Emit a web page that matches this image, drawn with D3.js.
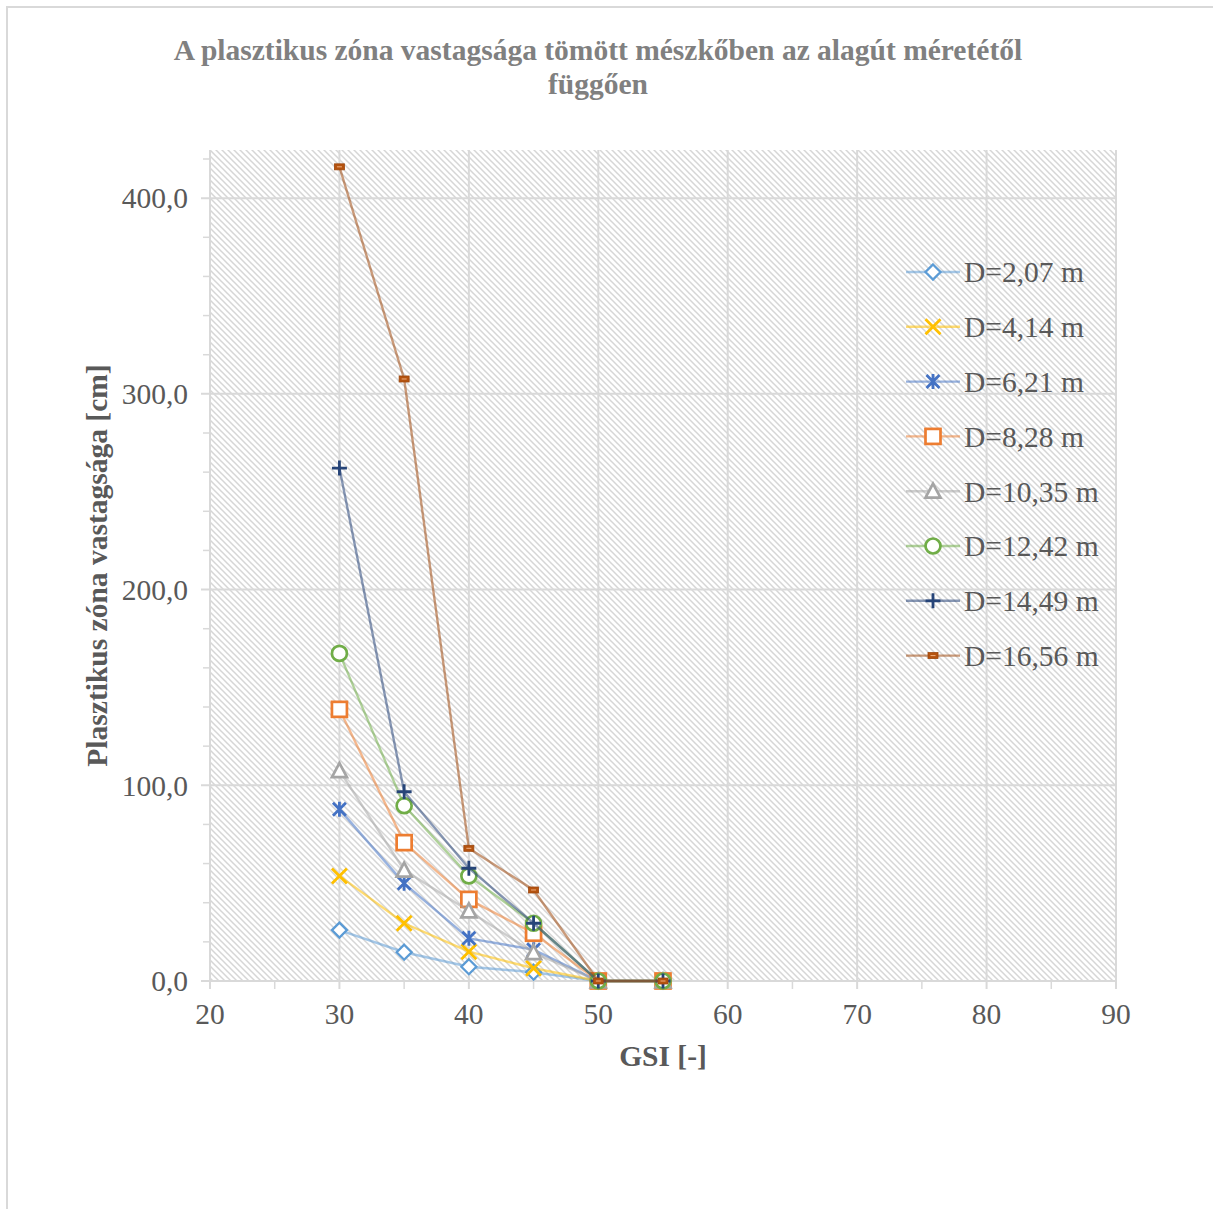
<!DOCTYPE html>
<html>
<head>
<meta charset="utf-8">
<script src="https://cdn.jsdelivr.net/npm/d3@7"></script>
<style>
  body { margin: 0; background: #fff; }
  text { font-family: "Liberation Serif", "Times New Roman", serif; }
</style>
</head>
<body>
<svg id="chart" width="1213" height="1209"></svg>
<script>
// GSI values on the x axis
const gsi = [30, 35, 40, 45, 50, 55];

// Plastic zone thickness [cm] for each tunnel diameter
const seriesNames = ["D=2,07 m", "D=4,14 m", "D=6,21 m", "D=8,28 m",
                     "D=10,35 m", "D=12,42 m", "D=14,49 m", "D=16,56 m"];
const d207  = [26.0, 14.7, 7.3, 4.5, 0, 0];
const d414  = [53.7, 29.5, 15.0, 6.5, 0, 0];
const d621  = [87.7, 49.9, 21.8, 16.0, 0, 0];
const d828  = [138.8, 70.7, 41.7, 24.4, 0, 0];
const d1035 = [107.5, 56.7, 35.8, 14.5, 0, 0];
const d1242 = [167.4, 89.6, 53.7, 29.5, 0, 0];
const d1449 = [262.1, 96.7, 57.6, 29.5, 0, 0];
const d1656 = [416.0, 307.6, 67.8, 46.5, 0, 0];
const seriesValues = [d207, d414, d621, d828, d1035, d1242, d1449, d1656];

const xTicks = [20, 30, 40, 50, 60, 70, 80, 90];
const yTicks = [0, 100, 200, 300, 400];

const colors  = ["#5b9bd5", "#ffc000", "#4472c4", "#ed7d31", "#a5a5a5", "#70ad47", "#264478", "#9e480e"];
const markers = ["diamond", "x", "star", "square", "triangle", "circle", "plus", "dash"];

const svg = d3.select("#chart");
const W = 1213, H = 1209;
const FS = 29.5;

// outer chart frame
svg.append("rect").attr("x", 7).attr("y", 7).attr("width", W + 20).attr("height", H + 20)
  .attr("fill", "#fff").attr("stroke", "#d9d9d9").attr("stroke-width", 2);

const plot = { left: 210, right: 1116, top: 150, bottom: 981 };

const x = d3.scaleLinear().domain([20, 90]).range([plot.left, plot.right]);
const y = d3.scaleLinear().domain([0, 424.6]).range([plot.bottom, plot.top]);

// diagonal hatch fill for the plot area
const defs = svg.append("defs");
const pat = defs.append("pattern").attr("id", "hatch")
  .attr("patternUnits", "userSpaceOnUse").attr("width", 6).attr("height", 6);
pat.append("rect").attr("width", 6).attr("height", 6).attr("fill", "#fff");
pat.append("path").attr("d", "M-1,-1 L7,7 M-4,2 L2,8 M2,-4 L8,2")
  .attr("stroke", "#d6d6d6").attr("stroke-width", 1.5);

svg.append("rect")
  .attr("x", plot.left).attr("y", plot.top)
  .attr("width", plot.right - plot.left).attr("height", plot.bottom - plot.top)
  .attr("fill", "url(#hatch)");

// gridlines
const grid = svg.append("g").attr("stroke", "#d9d9d9").attr("stroke-width", 2);
yTicks.forEach(v => grid.append("line")
  .attr("x1", plot.left - 9).attr("x2", plot.right).attr("y1", y(v)).attr("y2", y(v)));
xTicks.forEach(v => grid.append("line")
  .attr("x1", x(v)).attr("x2", x(v)).attr("y1", plot.top).attr("y2", plot.bottom + 8));

// minor tick marks
const minor = svg.append("g").attr("stroke", "#d9d9d9").attr("stroke-width", 1.5);
d3.range(20, 421, 20).filter(v => v % 100 !== 0).forEach(v => minor.append("line")
  .attr("x1", plot.left - 7).attr("x2", plot.left).attr("y1", y(v)).attr("y2", y(v)));
d3.range(25, 90, 10).forEach(v => minor.append("line")
  .attr("x1", x(v)).attr("x2", x(v)).attr("y1", plot.bottom).attr("y2", plot.bottom + 8));

// tick labels
const tickColor = "#595959";
svg.append("g").selectAll("text").data(yTicks).join("text")
  .attr("x", 188).attr("y", d => y(d)).attr("dy", "0.35em")
  .attr("text-anchor", "end").attr("font-size", FS).attr("fill", tickColor)
  .text(d => d3.format(".1f")(d).replace(".", ","));
svg.append("g").selectAll("text").data(xTicks).join("text")
  .attr("x", d => x(d)).attr("y", 1014).attr("dy", "0.35em")
  .attr("text-anchor", "middle").attr("font-size", FS).attr("fill", tickColor)
  .text(d => d);

// titles
svg.append("text").attr("x", 598).attr("y", 50).attr("dy", "0.35em")
  .attr("text-anchor", "middle").attr("font-size", FS).attr("font-weight", "bold")
  .attr("fill", "#808080")
  .text("A plasztikus zóna vastagsága tömött mészkőben az alagút méretétől");
svg.append("text").attr("x", 598).attr("y", 84).attr("dy", "0.35em")
  .attr("text-anchor", "middle").attr("font-size", FS).attr("font-weight", "bold")
  .attr("fill", "#808080").text("függően");
svg.append("text").attr("x", 663).attr("y", 1056).attr("dy", "0.35em")
  .attr("text-anchor", "middle").attr("font-size", FS).attr("font-weight", "bold")
  .attr("fill", "#595959").text("GSI [-]");
svg.append("text")
  .attr("transform", `translate(97,${(plot.top + plot.bottom) / 2}) rotate(-90)`)
  .attr("dy", "0.35em").attr("text-anchor", "middle")
  .attr("font-size", FS).attr("font-weight", "bold").attr("fill", "#595959")
  .text("Plasztikus zóna vastagsága [cm]");

// marker drawing
function drawMarker(g, type, color, cx, cy) {
  const s = 7.5;
  const sw = 2.3;
  if (type === "diamond") {
    g.append("path").attr("d", `M${cx},${cy - s} L${cx + s},${cy} L${cx},${cy + s} L${cx - s},${cy} Z`)
      .attr("fill", "#fff").attr("stroke", color).attr("stroke-width", sw);
  } else if (type === "x") {
    g.append("path").attr("d", `M${cx - s},${cy - s} L${cx + s},${cy + s} M${cx - s},${cy + s} L${cx + s},${cy - s}`)
      .attr("stroke", color).attr("stroke-width", sw + 0.5);
  } else if (type === "star") {
    g.append("path").attr("d", `M${cx - s + 1},${cy - s + 1} L${cx + s - 1},${cy + s - 1} M${cx - s + 1},${cy + s - 1} L${cx + s - 1},${cy - s + 1} M${cx},${cy - s} L${cx},${cy + s}`)
      .attr("stroke", color).attr("stroke-width", sw + 0.5);
  } else if (type === "square") {
    g.append("rect").attr("x", cx - s).attr("y", cy - s).attr("width", 2 * s).attr("height", 2 * s)
      .attr("fill", "#fff").attr("stroke", color).attr("stroke-width", sw + 0.4);
  } else if (type === "triangle") {
    g.append("path").attr("d", `M${cx},${cy - s} L${cx + s},${cy + s - 1} L${cx - s},${cy + s - 1} Z`)
      .attr("fill", "#fff").attr("stroke", color).attr("stroke-width", sw + 0.4);
  } else if (type === "circle") {
    g.append("circle").attr("cx", cx).attr("cy", cy).attr("r", s)
      .attr("fill", "#fff").attr("stroke", color).attr("stroke-width", sw + 0.4);
  } else if (type === "plus") {
    g.append("path").attr("d", `M${cx - s},${cy} L${cx + s},${cy} M${cx},${cy - s} L${cx},${cy + s}`)
      .attr("stroke", color).attr("stroke-width", sw + 0.5);
  } else if (type === "dash") {
    g.append("rect").attr("x", cx - 5).attr("y", cy - 3).attr("width", 10).attr("height", 6)
      .attr("fill", "#b5530f").attr("stroke", color).attr("stroke-width", 0.8);
    g.append("line").attr("x1", cx - 2.5).attr("x2", cx + 2.5).attr("y1", cy).attr("y2", cy)
      .attr("stroke", "#f0b080").attr("stroke-width", 1);
  }
}

// series lines and markers
const line = d3.line().x(d => x(d[0])).y(d => y(d[1]));
seriesValues.forEach((vals, i) => {
  const g = svg.append("g");
  const pts = gsi.map((gv, j) => [gv, vals[j]]);
  g.append("path").attr("d", line(pts)).attr("fill", "none")
    .attr("stroke", colors[i]).attr("stroke-opacity", 0.55).attr("stroke-width", 2.4);
  pts.forEach(p => drawMarker(g, markers[i], colors[i], x(p[0]), y(p[1])));
});

// legend
const legY0 = 272, legStep = 54.8;
seriesNames.forEach((name, i) => {
  const g = svg.append("g");
  const ly = legY0 + i * legStep;
  g.append("line").attr("x1", 906).attr("x2", 960).attr("y1", ly).attr("y2", ly)
    .attr("stroke", colors[i]).attr("stroke-opacity", 0.55).attr("stroke-width", 2.4);
  drawMarker(g, markers[i], colors[i], 933, ly);
  g.append("text").attr("x", 964).attr("y", ly).attr("dy", "0.35em")
    .attr("font-size", FS).attr("fill", "#595959").text(name);
});
</script>
</body>
</html>
